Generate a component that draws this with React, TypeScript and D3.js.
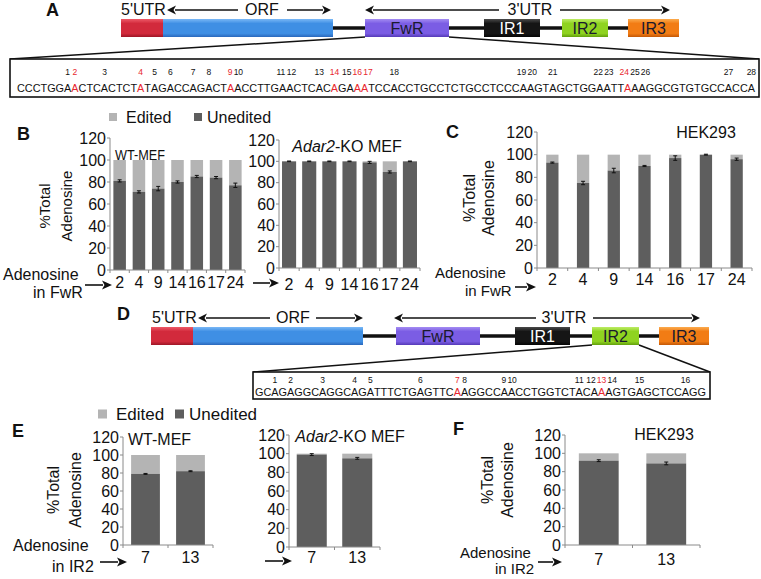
import React, { useMemo } from "react";
import * as d3 from "d3";

// ---------------- data ----------------
const FWR_SITES = ["2", "4", "9", "14", "16", "17", "24"];
const WT_FWR_UNEDITED = [81, 71, 74, 80, 85, 84, 77];
const WT_FWR_ERR = [1, 1, 2, 1, 1, 1, 2];
const KO_FWR_UNEDITED = [100, 100, 100, 100, 99, 90, 100];
const KO_FWR_ERR = [0.3, 0.3, 0.3, 0.3, 1, 1, 0.3];
const HEK_FWR_UNEDITED = [93, 75, 86, 90, 97, 100, 96];
const HEK_FWR_ERR = [0.5, 1.5, 2, 0.5, 2, 0.4, 1];

const IR2_SITES = ["7", "13"];
const WT_IR2_UNEDITED = [79, 82];
const WT_IR2_ERR = [0.5, 0.5];
const KO_IR2_UNEDITED = [99, 95];
const KO_IR2_ERR = [1, 1];
const HEK_IR2_UNEDITED = [92, 89];
const HEK_IR2_ERR = [1, 1.5];

const Y_TICKS = [0, 20, 40, 60, 80, 100, 120];
const LEGEND = ["Edited", "Unedited"];

const FWR_SEQ =
  "CCCTGGAACTCACTCTATAGACCAGACTAACCTTGAACTCACAGAAATCCACCTGCCTCTGCCTCCCAAGTAGCTGGAATTAAAGGCGTGTGCCACCA";
const FWR_RED = [2, 4, 9, 14, 16, 17, 24];
const IR2_SEQ = "GCAGAGGCAGGCAGATTTCTGAGTTCAAGGCCAACCTGGTCTACAAAGTGAGCTCCAGG";
const IR2_RED = [7, 13];

// ---------------- styles ----------------
const FONT = '"Liberation Sans", Arial, Helvetica, sans-serif';
const EDITED_COLOR = "#b4b4b4";
const UNEDITED_COLOR = "#5e5e5e";
const AXIS_COLOR = "#8a8a8a";
const RED_TEXT = "#e8262e";

const SEGMENT_COLORS: Record<string, [string, string, string]> = {
  red: ["#ee5a68", "#d22a3c", "#9e1626"],
  blue: ["#7ab8f6", "#3f8fe4", "#2a68bc"],
  purple: ["#a48cf2", "#7b5de4", "#553ab8"],
  black: ["#4a4a4a", "#151515", "#050505"],
  green: ["#bdec66", "#8fd320", "#62a00c"],
  orange: ["#fbab4e", "#f27c14", "#c45806"],
};

function Gradients() {
  return (
    <defs>
      {Object.entries(SEGMENT_COLORS).map(([k, [a, b, c]]) => (
        <linearGradient key={k} id={`grad-${k}`} x1="0" y1="0" x2="0" y2="1">
          <stop offset="0" stopColor={a} />
          <stop offset="0.25" stopColor={b} />
          <stop offset="0.8" stopColor={b} />
          <stop offset="1" stopColor={c} />
        </linearGradient>
      ))}
    </defs>
  );
}

// ---------------- arrow helper ----------------
function HArrow({ x1, x2, y, head = 9, w = 1.6 }: any) {
  const dir = Math.sign(x2 - x1);
  const hx = x2 - dir * head;
  return (
    <g>
      <line x1={x1} y1={y} x2={hx + dir * 1} y2={y} stroke="#111" strokeWidth={w} />
      <path d={`M${x2},${y} L${hx},${y - 4.5} L${hx + dir * 2.5},${y} L${hx},${y + 4.5} Z`} fill="#111" />
    </g>
  );
}

// ---------------- gene diagram ----------------
function GeneDiagram({ cfg }: any) {
  const { barTop, barH, arrowY, textY } = cfg;
  const mid = barTop + barH / 2;
  const seg = (k: string, [a, b]: number[], label?: string, labelColor = "#1a1a2e") => (
    <g key={k + a}>
      <rect x={a} y={barTop} width={b - a} height={barH} fill={`url(#grad-${k})`} />
      {label && (
        <text x={(a + b) / 2} y={mid + 5.5} textAnchor="middle" fontSize={16} fill={labelColor} fontFamily={FONT}>
          {label}
        </text>
      )}
    </g>
  );
  return (
    <g>
      <line x1={cfg.blue[1]} x2={cfg.ir3[0]} y1={mid} y2={mid} stroke="#111" strokeWidth={3.5} />
      {seg("red", cfg.red)}
      {seg("blue", cfg.blue)}
      {seg("purple", cfg.fwr, "FwR")}
      {seg("black", cfg.ir1, "IR1", "#ffffff")}
      {seg("green", cfg.ir2, "IR2")}
      {seg("orange", cfg.ir3, "IR3")}
      <text x={cfg.utr5X} y={textY} fontSize={16} fontFamily={FONT} fill="#111">
        5'UTR
      </text>
      <HArrow x1={cfg.orf.tl} x2={cfg.orf.l} y={arrowY} />
      <HArrow x1={cfg.orf.tr} x2={cfg.orf.r} y={arrowY} />
      <text x={cfg.orf.c} y={textY} textAnchor="middle" fontSize={16} fontFamily={FONT} fill="#111">
        ORF
      </text>
      <HArrow x1={cfg.utr.tl} x2={cfg.utr.l} y={arrowY} />
      <HArrow x1={cfg.utr.tr} x2={cfg.utr.r} y={arrowY} />
      <text x={cfg.utr.c} y={textY} textAnchor="middle" fontSize={16} fontFamily={FONT} fill="#111">
        3'UTR
      </text>
    </g>
  );
}

// spread number labels so they don't overlap, keeping each group centred on its letters
function spreadLabels(centers: number[], widths: number[], gap: number) {
  type G = { items: number[]; left: number; width: number };
  const build = (items: number[]): G => {
    let off = 0;
    const mids: number[] = [];
    items.forEach((i, k) => {
      mids.push(off + widths[i] / 2);
      off += widths[i] + (k < items.length - 1 ? gap : 0);
    });
    const meanDesired = d3.mean(items.map((i) => centers[i])) as number;
    const meanMid = d3.mean(mids) as number;
    return { items, left: meanDesired - meanMid, width: off };
  };
  let groups: G[] = centers.map((_, i) => build([i]));
  let changed = true;
  while (changed) {
    changed = false;
    for (let i = 0; i < groups.length - 1; i++) {
      const a = groups[i];
      const b = groups[i + 1];
      if (a.left + a.width + gap > b.left) {
        groups.splice(i, 2, build([...a.items, ...b.items]));
        changed = true;
        break;
      }
    }
  }
  const out = new Array(centers.length).fill(0);
  groups.forEach((g) => {
    let off = g.left;
    g.items.forEach((i) => {
      out[i] = off + widths[i] / 2;
      off += widths[i] + gap;
    });
  });
  return out;
}

// ---------------- sequence box ----------------
function SeqBox({ seq, red, box, seqX0, seqW, seqBase, numBase, numSize }: any) {
  const layout = useMemo(() => {
    const base = 11;
    let ws: number[];
    const canvas = typeof document !== "undefined" ? document.createElement("canvas") : null;
    const ctx = canvas ? canvas.getContext("2d") : null;
    if (ctx) {
      ctx.font = `${base}px ${FONT}`;
      ws = seq.split("").map((c: string) => ctx.measureText(c).width);
    } else {
      ws = seq.split("").map((c: string) => (c === "T" ? 0.611 : 0.722) * base);
    }
    const tot = ws.reduce((a, b) => a + b, 0);
    const k = seqW / tot;
    const widths = ws.map((v) => v * k);
    let acc = seqX0;
    const pos = widths.map((v) => {
      const p = acc;
      acc += v;
      return p;
    });
    return { pos, widths, fs: base * k };
  }, [seq, seqX0, seqW]);

  const aIdx: number[] = [];
  seq.split("").forEach((c: string, i: number) => {
    if (c === "A") aIdx.push(i);
  });
  const redSet = new Set(red.map((r: number) => aIdx[r - 1]));
  const segs: { s: number; e: number; red: boolean }[] = [];
  for (let i = 0; i < seq.length; i++) {
    const r = redSet.has(i);
    const last = segs[segs.length - 1];
    if (last && last.red === r) last.e = i + 1;
    else segs.push({ s: i, e: i + 1, red: r });
  }
  const desired = aIdx.map((ci) => layout.pos[ci] + layout.widths[ci] / 2);
  const labelW = aIdx.map((_, k) => String(k + 1).length * 0.556 * numSize);
  const numX = spreadLabels(desired, labelW, 1.2);
  return (
    <g fontFamily={FONT}>
      <rect x={box[0]} y={box[1]} width={box[2] - box[0]} height={box[3] - box[1]} fill="#fff" stroke="#111" strokeWidth={1.6} />
      <text y={seqBase} fontSize={layout.fs} style={{ fontKerning: "none" } as any}>
        {segs.map((sg, i) => (
          <tspan key={i} x={layout.pos.slice(sg.s, sg.e).map((v) => v.toFixed(2)).join(" ")} fill={sg.red ? RED_TEXT : "#111"}>
            {seq.slice(sg.s, sg.e)}
          </tspan>
        ))}
      </text>
      {aIdx.map((ci, k) => (
        <text
          key={k}
          x={numX[k]}
          y={numBase}
          textAnchor="middle"
          fontSize={numSize}
          fill={red.includes(k + 1) ? RED_TEXT : "#111"}
        >
          {k + 1}
        </text>
      ))}
    </g>
  );
}

// ---------------- bar chart ----------------
function BarChart({ left, right, y0, y120, cats, vals, errs, ratio, labelY, fontSize = 16 }: any) {
  const pad = 1 - ratio;
  const x = d3.scaleBand<string>().domain(cats).range([left, right]).paddingInner(pad).paddingOuter(pad / 2);
  const y = d3.scaleLinear().domain([0, 120]).range([y0, y120]);
  const step = x.step();
  const bw = x.bandwidth();
  return (
    <g fontFamily={FONT}>
      {cats.map((c: string, i: number) => {
        const bx = x(c) as number;
        const v = vals[i];
        const e = errs[i];
        const cx = bx + bw / 2;
        return (
          <g key={c}>
            <rect x={bx} y={y(100)} width={bw} height={Math.max(0, y(v) - y(100))} fill={EDITED_COLOR} />
            <rect x={bx} y={y(v)} width={bw} height={y(0) - y(v)} fill={UNEDITED_COLOR} />
            <line x1={cx} x2={cx} y1={y(v + e)} y2={y(v - e)} stroke="#111" strokeWidth={1} />
            <line x1={cx - 2} x2={cx + 2} y1={y(v + e)} y2={y(v + e)} stroke="#111" strokeWidth={1} />
            <line x1={cx - 2} x2={cx + 2} y1={y(v - e)} y2={y(v - e)} stroke="#111" strokeWidth={1} />
          </g>
        );
      })}
      <line x1={left} x2={left} y1={y(0)} y2={y(120)} stroke={AXIS_COLOR} strokeWidth={1} />
      {Y_TICKS.map((t) => (
        <g key={t}>
          <line x1={left - 3} x2={left} y1={y(t)} y2={y(t)} stroke={AXIS_COLOR} strokeWidth={1} />
          <text x={left - 4} y={y(t)} dy="0.36em" textAnchor="end" fontSize={fontSize} fill="#111">
            {t}
          </text>
        </g>
      ))}
      <line x1={left} x2={right} y1={y(0)} y2={y(0)} stroke={AXIS_COLOR} strokeWidth={1} />
      {d3.range(cats.length + 1).map((k) => (
        <line key={k} x1={left + k * step} x2={left + k * step} y1={y(0)} y2={y(0) + 3} stroke={AXIS_COLOR} strokeWidth={1} />
      ))}
      {cats.map((c: string) => (
        <text key={c} x={(x(c) as number) + bw / 2} y={labelY} textAnchor="middle" fontSize={fontSize} fill="#111">
          {c}
        </text>
      ))}
    </g>
  );
}

function YTitle({ x1, x2, cy, size = 16 }: any) {
  return (
    <g fontFamily={FONT} fontSize={size} fill="#111">
      <text transform={`translate(${x1},${cy}) rotate(-90)`} textAnchor="middle">
        %Total
      </text>
      <text transform={`translate(${x2},${cy}) rotate(-90)`} textAnchor="middle">
        Adenosine
      </text>
    </g>
  );
}

function Legend({ x, y, size, fs, gap }: any) {
  return (
    <g fontFamily={FONT} fontSize={fs} fill="#111">
      <rect x={x} y={y - size / 2} width={size} height={size} fill={EDITED_COLOR} />
      <text x={x + size + 9} y={y} dy="0.36em">
        {LEGEND[0]}
      </text>
      <rect x={x + gap} y={y - size / 2} width={size} height={size} fill={UNEDITED_COLOR} />
      <text x={x + gap + size + 5} y={y} dy="0.36em">
        {LEGEND[1]}
      </text>
    </g>
  );
}

function PanelLabel({ x, y, t }: any) {
  return (
    <text x={x} y={y} fontFamily={FONT} fontWeight="bold" fontSize={18} fill="#111">
      {t}
    </text>
  );
}

function SiteLabel({ x, y1, y2, x2, region, ax1, ax2, ay, fs = 16 }: any) {
  return (
    <g fontFamily={FONT} fontSize={fs} fill="#111">
      <text x={x} y={y1}>
        Adenosine
      </text>
      <text x={x2} y={y2}>
        in {region}
      </text>
      <HArrow x1={ax1} x2={ax2} y={ay} head={10} w={1.6} />
    </g>
  );
}

const DIAG_A = {
  barTop: 19,
  barH: 18,
  arrowY: 10,
  textY: 15,
  red: [121, 163],
  blue: [163, 333],
  fwr: [365, 449],
  ir1: [484, 540],
  ir2: [562, 608],
  ir3: [628, 679],
  utr5X: 121,
  orf: { l: 167, r: 331, tl: 238, tr: 287, c: 262 },
  utr: { l: 365, r: 670, tl: 499, tr: 560, c: 530 },
};
const DIAG_D = {
  barTop: 327,
  barH: 18,
  arrowY: 318,
  textY: 323,
  red: [151, 193],
  blue: [193, 363],
  fwr: [396, 480],
  ir1: [515, 570],
  ir2: [592, 639],
  ir3: [659, 709],
  utr5X: 152,
  orf: { l: 198, r: 363, tl: 270, tr: 316, c: 293 },
  utr: { l: 394, r: 700, tl: 536, tr: 593, c: 564 },
};

export default function App() {
  return (
    <svg
      width={761}
      height={579}
      viewBox="0 0 761 579"
      style={{ position: "absolute", left: 0, top: 0, background: "#fff" }}
      fontFamily={FONT}
    >
      <Gradients />
      {/* ---------- A ---------- */}
      <PanelLabel x={46} y={16} t="A" />
      <GeneDiagram cfg={DIAG_A} />
      <line x1={365} y1={37} x2={10} y2={59} stroke="#111" strokeWidth={1.5} />
      <line x1={449} y1={37} x2={759} y2={59} stroke="#111" strokeWidth={1.5} />
      <SeqBox seq={FWR_SEQ} red={FWR_RED} box={[10, 59, 759, 97]} seqX0={17} seqW={738} seqBase={92} numBase={75} numSize={8.5} />

      {/* ---------- B ---------- */}
      <PanelLabel x={17} y={140} t="B" />
      <Legend x={109} y={117} size={8} fs={16} gap={85} />
      <YTitle x1={50} x2={72} cy={206} size={15} />
      <BarChart left={110} right={245} y0={270} y120={138} cats={FWR_SITES} vals={WT_FWR_UNEDITED} errs={WT_FWR_ERR} ratio={0.65} labelY={288} />
      <text x={115} y={160} fontSize={14} fill="#111" textLength={50} lengthAdjust="spacingAndGlyphs">
        WT-MEF
      </text>
      <SiteLabel x={3} y1={280} x2={33} y2={298} region="FwR" ax1={85} ax2={112} ay={285} />

      <BarChart left={279} right={420} y0={268} y120={140} cats={FWR_SITES} vals={KO_FWR_UNEDITED} errs={KO_FWR_ERR} ratio={0.7} labelY={290} />
      <text x={347} y={152} fontSize={16} textAnchor="middle" fill="#111">
        <tspan fontStyle="italic">Adar2</tspan>-KO MEF
      </text>
      <HArrow x1={253} x2={279} y={283} head={10} />

      {/* ---------- C ---------- */}
      <PanelLabel x={446} y={138} t="C" />
      <YTitle x1={475} x2={494} cy={198} size={16} />
      <BarChart left={537} right={752} y0={268} y120={132} cats={FWR_SITES} vals={HEK_FWR_UNEDITED} errs={HEK_FWR_ERR} ratio={0.4} labelY={285} />
      <text x={706} y={138} fontSize={16} textAnchor="middle" fill="#111">
        HEK293
      </text>
      <SiteLabel x={435} y1={278} x2={465} y2={296} region="FwR" ax1={515} ax2={536} ay={287} fs={15} />

      {/* ---------- D ---------- */}
      <PanelLabel x={117} y={320} t="D" />
      <GeneDiagram cfg={DIAG_D} />
      <line x1={592} y1={345} x2={253} y2={372} stroke="#111" strokeWidth={1.5} />
      <line x1={639} y1={345} x2={710} y2={372} stroke="#111" strokeWidth={1.5} />
      <SeqBox seq={IR2_SEQ} red={IR2_RED} box={[253, 372, 710, 399]} seqX0={255} seqW={451} seqBase={396} numBase={383} numSize={8.5} />

      {/* ---------- E ---------- */}
      <PanelLabel x={12} y={437} t="E" />
      <Legend x={98} y={414} size={9} fs={17} gap={77} />
      <YTitle x1={59} x2={81} cy={490} size={16} />
      <BarChart left={123} right={213} y0={545} y120={437} cats={IR2_SITES} vals={WT_IR2_UNEDITED} errs={WT_IR2_ERR} ratio={0.64} labelY={563} />
      <text x={128} y={445} fontSize={16} fill="#111">
        WT-MEF
      </text>
      <SiteLabel x={13} y1={551} x2={52} y2={572} region="IR2" ax1={100} ax2={127} ay={562} />

      <BarChart left={289} right={380} y0={547} y120={435} cats={IR2_SITES} vals={KO_IR2_UNEDITED} errs={KO_IR2_ERR} ratio={0.66} labelY={563} />
      <text x={350} y={442} fontSize={16} textAnchor="middle" fill="#111">
        <tspan fontStyle="italic">Adar2</tspan>-KO MEF
      </text>
      <HArrow x1={265} x2={292} y={561} head={10} />

      {/* ---------- F ---------- */}
      <PanelLabel x={453} y={435} t="F" />
      <YTitle x1={493} x2={513} cy={480} size={16} />
      <BarChart left={565} right={700} y0={545} y120={435} cats={IR2_SITES} vals={HEK_IR2_UNEDITED} errs={HEK_IR2_ERR} ratio={0.59} labelY={565} />
      <text x={664} y={440} fontSize={16} textAnchor="middle" fill="#111">
        HEK293
      </text>
      <SiteLabel x={460} y1={558} x2={495} y2={574} region="IR2" ax1={538} ax2={562} ay={562} fs={15} />
    </svg>
  );
}
